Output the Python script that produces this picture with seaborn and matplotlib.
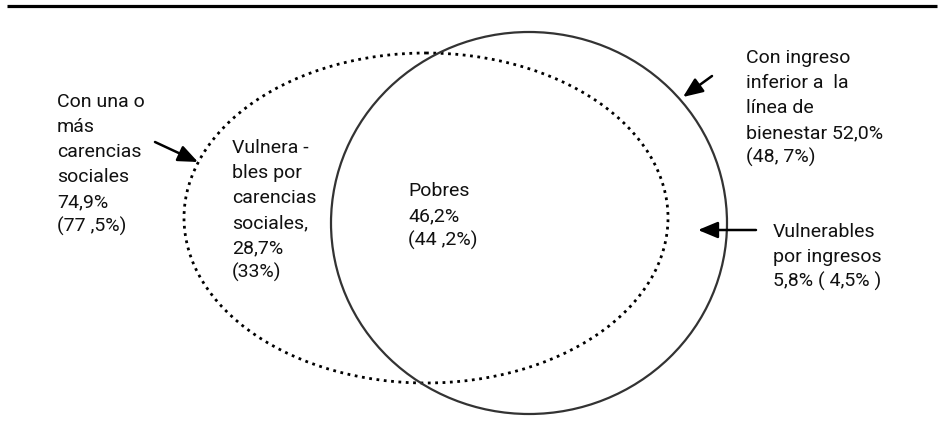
import matplotlib
matplotlib.use("Agg")
import matplotlib.pyplot as plt
import seaborn as sns
from matplotlib.patches import Ellipse

# textos del diagrama (2012, entre parentesis 2010)
txt_carencias = ["Con una o", "más", "carencias", "sociales", "74,9%", "(77 ,5%)"]
txt_vuln_car = ["Vulnera -", "bles por", "carencias", "sociales,", "28,7%", "(33%)"]
txt_pobres = ["Pobres", "46,2%", "(44 ,2%)"]
txt_ingreso = ["Con ingreso", "inferior a  la", "línea de", "bienestar 52,0%", "(48, 7%)"]
txt_vuln_ing = ["Vulnerables", "por ingresos", "5,8% ( 4,5% )"]

sns.set_theme(style="white")
plt.rcParams['font.family'] = ['Roboto', 'DejaVu Sans']

fig = plt.figure(figsize=(9.38, 4.39), dpi=100)
ax = fig.add_axes([0, 0, 1, 1])
ax.set_xlim(0, 938)
ax.set_ylim(439, 0)
ax.set_axis_off()

# linea superior
ax.plot([7, 937], [6.5, 6.5], color='black', lw=2.3, solid_capstyle='butt')

# conjuntos
ax.add_patch(Ellipse((426, 219), 484, 330, fill=False, ls=':', lw=2.0, color='black'))
ax.add_patch(Ellipse((529, 224), 396, 382, fill=False, lw=1.6, color='#333333'))


def block(lines, x, y0, step=25):
    for i, s in enumerate(lines):
        ax.text(x, y0 + i * step, s, fontsize=14, va='baseline', ha='left', color='#111111')


block(txt_carencias, 57, 107)
block(txt_vuln_car, 232, 153)
block(txt_pobres, 408, 196)
block(txt_ingreso, 746, 63)
block(txt_vuln_ing, 773, 237)

arrow = dict(arrowstyle="-|>,head_length=0.6,head_width=0.25", color='black', lw=1.8,
             shrinkA=0, shrinkB=0, mutation_scale=20)
ax.annotate("", xy=(198, 163), xytext=(155, 143), arrowprops=arrow)
ax.annotate("", xy=(683, 98), xytext=(712, 77), arrowprops=arrow)
ax.annotate("", xy=(698, 231), xytext=(756, 231), arrowprops=arrow)

fig.savefig("out.png", dpi=100)
